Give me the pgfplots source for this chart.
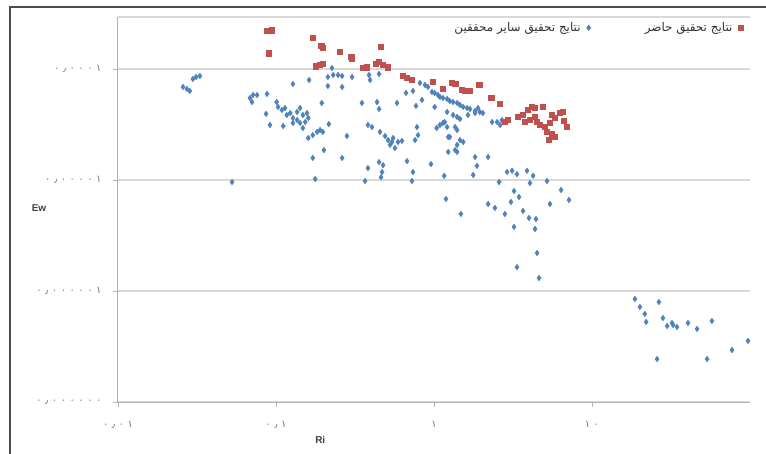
\documentclass[border=0pt]{standalone}
\usepackage{fontspec}
\usepackage{pgfplots}
\pgfplotsset{compat=1.18}
\setmainfont{Liberation Sans}
\newfontfamily\arabicfont[Script=Arabic]{DejaVu Sans}
\newfontfamily\numfont[LetterSpace=35]{DejaVu Sans}
\TeXXeTstate=1
\definecolor{xlblue}{HTML}{4F81BD}
\definecolor{xlred}{HTML}{C0504D}
\begin{document}
\begin{tikzpicture}
\useasboundingbox (0,0) rectangle (766bp,454bp);
\fill[white] (0,0) rectangle (766bp,454bp);
\draw[black!70, line width=1.5bp] (10bp,0) |- (766bp,447bp);
\begin{axis}[
  at={(118bp,52bp)}, anchor=south west,
  scale only axis, width=632bp, height=385bp,
  xmode=log, ymode=log,
  xmin=0.01, xmax=100, ymin=1e-7, ymax=2.94e-4,
  axis lines=left, axis line style={-, draw=black!30, line width=1bp},
  xminorticks=false, yminorticks=false,
  xtick={0.01,0.1,1,10},
  xticklabels={۰٫۰۱,۰٫۱,۱,۱۰},
  ytick={1e-7,1e-6,1e-5,1e-4},
  yticklabels={۰٫۰۰۰۰۰۰,۰٫۰۰۰۰۰۱,۰٫۰۰۰۰۱,۰٫۰۰۰۱},
  tick align=outside, major tick length=5bp,
  tick style={draw=black!30, line width=0.8bp},
  ymajorgrids, grid style={draw=black!15, line width=1.3bp},
  extra y ticks={2.94e-4}, extra y tick labels={},
  extra y tick style={grid=major, major tick length=0pt},
  xticklabel style={font=\numfont\fontsize{10}{10}\selectfont, text=black!55, yshift=-11bp},
  yticklabel style={font=\numfont\fontsize{10}{10}\selectfont, text=black!55, xshift=-8bp},
  xlabel={Ri}, ylabel={Ew},
  xlabel style={font=\bfseries\fontsize{10}{10}\selectfont, text=black!75, at={(axis description cs:0.32,-0.099)}, anchor=center},
  ylabel style={font=\bfseries\fontsize{10}{10}\selectfont, text=black!75, rotate=-90, at={(axis description cs:-0.125,0.504)}, anchor=center},
  legend plot pos=right,
  legend columns=2,
  legend style={at={(axis description cs:0.995,0.972)}, anchor=east, draw=none, fill=none,
    font=\arabicfont\fontsize{12}{12}\selectfont, text=black!80,
    /tikz/every odd column/.append style={column sep=4bp},
    /tikz/every even column/.append style={column sep=52bp}},
]
\addplot[only marks, mark=diamond*, mark size=2.8bp, color=xlblue] coordinates {
(0.0258,6.89e-5)(0.0273,6.61e-5)(0.0285,6.34e-5)(0.0298,8.13e-5)(0.0312,8.47e-5)(0.0330,8.65e-5)
(0.0527,9.59e-6)(0.0684,5.48e-5)(0.0705,5.04e-5)(0.0715,5.83e-5)(0.0759,5.83e-5)(0.0877,5.96e-5)
(0.0865,3.94e-5)(0.0916,3.13e-5)(0.111,3.06e-5)(0.128,3.26e-5)(0.101,5.04e-5)(0.103,4.55e-5)
(0.109,4.27e-5)(0.114,4.45e-5)(0.117,3.85e-5)(0.123,4.01e-5)(0.128,3.62e-5)(0.136,4.10e-5)
(0.142,4.45e-5)(0.148,3.85e-5)(0.157,4.01e-5)(0.160,3.62e-5)(0.153,3.33e-5)(0.142,3.26e-5)
(0.136,3.47e-5)(0.128,7.33e-5)(0.162,7.96e-5)(0.148,2.94e-5)(0.195,4.94e-5)(0.216,3.19e-5)
(0.160,2.39e-5)(0.171,2.54e-5)(0.182,2.71e-5)(0.190,2.82e-5)(0.198,2.71e-5)(0.201,1.86e-5)
(0.281,2.49e-5)(0.171,1.58e-5)(0.262,1.58e-5)(0.177,1.02e-5)(0.226,1.02e-4)(0.213,8.47e-5)
(0.230,8.83e-5)(0.247,8.83e-5)(0.262,8.65e-5)(0.303,8.47e-5)(0.213,7.03e-5)(0.262,6.89e-5)
(0.388,8.83e-5)(0.394,7.96e-5)(0.449,9.02e-5)(0.350,4.94e-5)(0.436,5.04e-5)(0.449,4.36e-5)
(0.583,4.94e-5)(0.665,6.08e-5)(0.736,6.34e-5)(0.769,4.65e-5)(0.839,5.26e-5)(0.382,3.13e-5)
(0.405,3.00e-5)(0.455,2.71e-5)(0.490,2.49e-5)(0.512,2.29e-5)(0.527,2.07e-5)(0.542,2.20e-5)
(0.566,1.94e-5)(0.551,2.39e-5)(0.592,2.20e-5)(0.627,2.25e-5)(0.780,3.00e-5)(0.792,2.54e-5)
(0.759,2.29e-5)(0.675,1.48e-5)(0.957,1.39e-5)(0.449,1.45e-5)(0.382,1.28e-5)(0.476,1.36e-5)
(0.469,1.18e-5)(0.462,1.06e-5)(0.736,1.18e-5)(0.725,9.80e-6)(0.366,9.80e-6)(1.04,2.94e-5)
(1.09,3.13e-5)(1.14,3.26e-5)(1.21,3.00e-5)(1.17,3.33e-5)(1.21,4.10e-5)(1.26,2.44e-5)
(0.815,7.48e-5)(0.877,7.18e-5)(0.916,6.89e-5)(0.971,6.21e-5)(1.01,6.08e-5)(1.06,5.83e-5)
(1.09,5.60e-5)(1.14,5.48e-5)(1.21,5.37e-5)(1.26,5.15e-5)(1.32,5.04e-5)(1.40,4.94e-5)
(1.46,4.74e-5)(1.53,4.55e-5)(1.62,4.45e-5)(1.69,4.36e-5)(1.82,4.19e-5)(1.95,4.10e-5)
(2.04,4.01e-5)(1.01,4.55e-5)(1.32,3.85e-5)(1.40,3.70e-5)(1.46,3.55e-5)(1.64,3.85e-5)
(1.82,4.01e-5)(1.90,4.45e-5)(1.36,3.00e-5)(1.40,2.82e-5)(1.23,2.44e-5)(1.46,2.29e-5)
(1.53,2.20e-5)(1.40,2.07e-5)(1.36,1.86e-5)(1.23,1.79e-5)(1.40,1.79e-5)(2.33,3.33e-5)
(2.51,3.33e-5)(2.62,3.13e-5)(2.69,3.47e-5)(1.82,1.61e-5)(2.20,1.61e-5)(1.87,1.34e-5)
(1.77,1.11e-5)(1.16,1.09e-5)(2.90,1.18e-5)(3.12,1.21e-5)(3.35,1.13e-5)(3.88,1.21e-5)
(4.24,1.09e-5)(2.58,9.59e-6)(4.05,9.39e-6)(5.19,9.80e-6)(3.21,7.96e-6)(3.45,7.03e-6)
(3.07,6.34e-6)(1.19,6.75e-6)(2.20,6.08e-6)(2.43,5.60e-6)(1.48,4.94e-6)(2.81,4.94e-6)
(3.66,5.26e-6)(3.99,4.55e-6)(4.42,4.45e-6)(3.21,3.78e-6)(4.36,3.62e-6)(5.42,6.08e-6)
(6.37,8.13e-6)(7.15,6.61e-6)(4.49,2.20e-6)(3.35,1.64e-6)(4.62,1.31e-6)
(18.7,8.47e-7)(20.1,7.18e-7)(21.6,6.21e-7)(22.0,5.26e-7)(26.5,7.96e-7)(28.1,5.71e-7)
(29.9,4.84e-7)(32.1,5.15e-7)(32.6,4.94e-7)(34.5,4.74e-7)(40.5,5.15e-7)(46.2,4.55e-7)
(57.4,5.37e-7)(25.8,2.44e-7)(53.5,2.44e-7)(76.9,2.94e-7)(97.1,3.55e-7)
};
\addlegendentry{\beginR نتایج تحقیق سایر محققین\endR}
\addplot[only marks, mark=square*, mark size=2.6bp, color=xlred] coordinates {
(0.0877,2.20e-4)(0.0944,2.24e-4)(0.0904,1.39e-4)(0.171,1.90e-4)(0.193,1.61e-4)(0.198,1.55e-4)
(0.254,1.42e-4)(0.299,1.28e-4)(0.303,1.23e-4)(0.462,1.58e-4)(0.179,1.06e-4)(0.190,1.09e-4)
(0.198,1.11e-4)(0.356,1.02e-4)(0.377,1.04e-4)(0.430,1.11e-4)(0.449,1.16e-4)(0.476,1.09e-4)
(0.512,1.04e-4)(0.637,8.65e-5)(0.675,8.30e-5)(0.725,7.96e-5)(0.986,7.64e-5)(1.14,6.61e-5)
(1.30,7.48e-5)(1.36,7.33e-5)(1.50,6.47e-5)(1.57,6.34e-5)(1.67,6.34e-5)(1.93,7.18e-5)
(2.30,5.48e-5)(2.62,4.84e-5)(2.94,3.47e-5)(2.81,3.33e-5)(3.40,3.70e-5)(3.66,3.85e-5)
(3.93,4.27e-5)(4.17,4.55e-5)(4.36,4.45e-5)(3.77,3.33e-5)(4.05,3.47e-5)(4.36,3.70e-5)
(4.49,3.33e-5)(4.90,4.55e-5)(5.58,3.85e-5)(5.83,3.62e-5)(6.27,4.01e-5)(6.55,4.10e-5)
(4.69,3.13e-5)(5.04,3.00e-5)(5.42,3.26e-5)(5.19,2.71e-5)(5.58,2.60e-5)(5.83,2.44e-5)
(5.35,2.29e-5)(6.65,3.40e-5)(6.95,3.00e-5)
};
\addlegendentry{\beginR نتایج تحقیق حاضر\endR}
\end{axis}
\end{tikzpicture}
\end{document}
